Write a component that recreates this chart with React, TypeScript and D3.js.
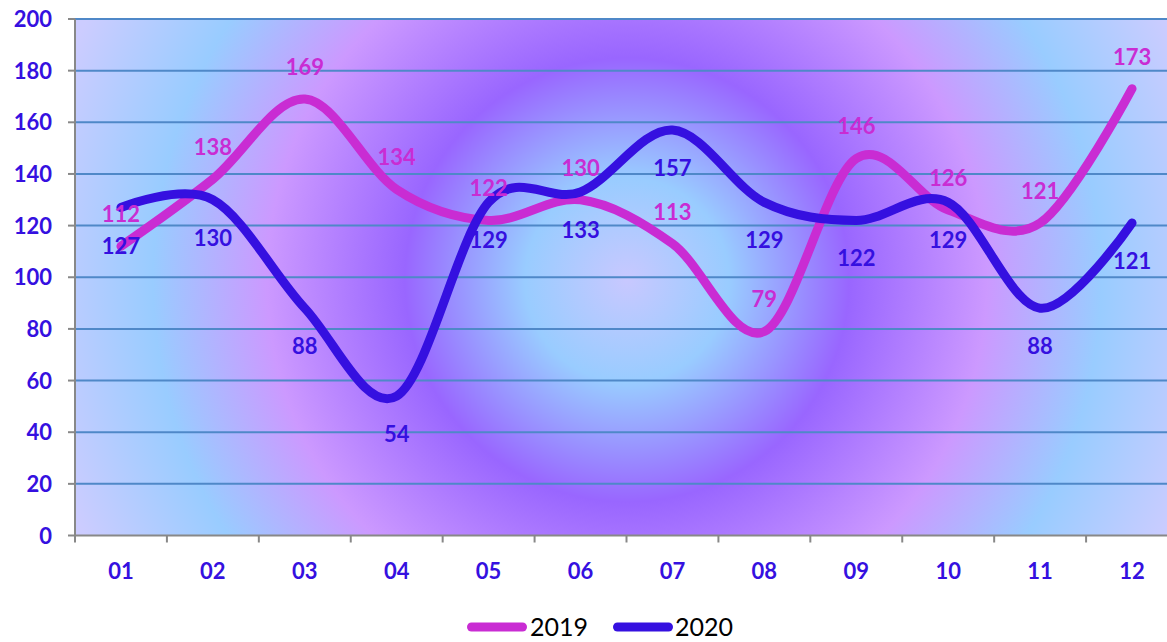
import React from "react";
import * as d3 from "d3";

const months = ["01", "02", "03", "04", "05", "06", "07", "08", "09", "10", "11", "12"];
const values2019 = [112, 138, 169, 134, 122, 130, 113, 79, 146, 126, 121, 173];
const values2020 = [127, 130, 88, 54, 129, 133, 157, 129, 122, 129, 88, 121];
const yTicks = [0, 20, 40, 60, 80, 100, 120, 140, 160, 180, 200];
const seriesNames = ["2019", "2020"];

const W = 1167;
const H = 642;
const plotLeft = 75;
const plotRight = 1178;
const plotTop = 19;
const plotBottom = 535.5;

const C2019 = "#c92cd3";
const C2020 = "#3510e0";
const LABEL_BLUE = "#3510e0";
const FONT = "Lato, 'Open Sans', sans-serif";

export default function App() {
  const x = d3.scaleBand<string>().domain(months).range([plotLeft, plotRight]);
  const y = d3.scaleLinear().domain([0, 200]).range([plotBottom, plotTop]);
  const cx = (m: string) => (x(m) as number) + x.bandwidth() / 2;

  const line = d3
    .line<number>()
    .x((_, i) => cx(months[i]))
    .y((d) => y(d))
    .curve(d3.curveCardinal.tension(0));

  const series = [
    { name: seriesNames[0], values: values2019, color: C2019, labelOffset: -32 },
    { name: seriesNames[1], values: values2020, color: C2020, labelOffset: 38 },
  ];

  const boundaries = months.map((m) => x(m) as number).concat([plotRight]);

  return (
    <svg
      width={W}
      height={H}
      style={{ position: "absolute", left: 0, top: 0, background: "#ffffff" }}
      fontFamily={FONT}
    >
      <defs>
        <radialGradient id="bg" gradientUnits="userSpaceOnUse" cx={627} cy={280} r={600}>
          <stop offset="0" stopColor="#c8c8ff" />
          <stop offset="0.17" stopColor="#99ccff" />
          <stop offset="0.37" stopColor="#9966ff" />
          <stop offset="0.6" stopColor="#cc99ff" />
          <stop offset="0.79" stopColor="#99ccff" />
          <stop offset="1" stopColor="#ccccff" />
        </radialGradient>
      </defs>
      <rect x={plotLeft} y={plotTop} width={plotRight - plotLeft} height={plotBottom - plotTop} fill="url(#bg)" />

      {/* gridlines */}
      {yTicks.map((t) =>
        t === 0 ? null : (
          <line key={"g" + t} x1={plotLeft} x2={plotRight} y1={y(t)} y2={y(t)} stroke="#4f88c8" strokeWidth={2} />
        )
      )}

      {/* axes */}
      <line x1={plotLeft} x2={plotLeft} y1={plotTop} y2={plotBottom} stroke="#888888" strokeWidth={2} />
      <line x1={plotLeft} x2={plotRight} y1={plotBottom} y2={plotBottom} stroke="#888888" strokeWidth={2} />
      {yTicks.map((t) => (
        <line key={"yt" + t} x1={plotLeft - 7} x2={plotLeft} y1={y(t)} y2={y(t)} stroke="#888888" strokeWidth={2} />
      ))}
      {boundaries.map((b, i) => (
        <line key={"xt" + i} x1={b} x2={b} y1={plotBottom} y2={plotBottom + 7} stroke="#888888" strokeWidth={2} />
      ))}

      {/* y tick labels */}
      {yTicks.map((t) => (
        <text
          key={"yl" + t}
          x={52}
          y={y(t) + 8}
          textAnchor="end"
          fontSize={22}
          fontWeight="bold"
          fill={LABEL_BLUE}
        >
          {t}
        </text>
      ))}

      {/* x tick labels */}
      {months.map((m) => (
        <text key={"xl" + m} x={cx(m)} y={579} textAnchor="middle" fontSize={22} fontWeight="bold" fill={LABEL_BLUE}>
          {m}
        </text>
      ))}

      {/* lines */}
      {series.map((s) => (
        <path
          key={"p" + s.name}
          d={line(s.values) as string}
          fill="none"
          stroke={s.color}
          strokeWidth={9}
          strokeLinecap="round"
          strokeLinejoin="round"
        />
      ))}

      {/* data labels */}
      {series.map((s) =>
        s.values.map((v, i) => (
          <text
            key={"dl" + s.name + i}
            x={cx(months[i])}
            y={y(v) + s.labelOffset + 8}
            textAnchor="middle"
            fontSize={22}
            fontWeight="bold"
            fill={s.color}
          >
            {v}
          </text>
        ))
      )}

      {/* legend */}
      <line x1={471.5} x2={522.5} y1={627} y2={627} stroke={C2019} strokeWidth={9} strokeLinecap="round" />
      <text x={530} y={636} fontSize={25} fill="#000000">
        {seriesNames[0]}
      </text>
      <line x1={617.5} x2={668.5} y1={627} y2={627} stroke={C2020} strokeWidth={9} strokeLinecap="round" />
      <text x={675} y={636} fontSize={25} fill="#000000">
        {seriesNames[1]}
      </text>
    </svg>
  );
}
